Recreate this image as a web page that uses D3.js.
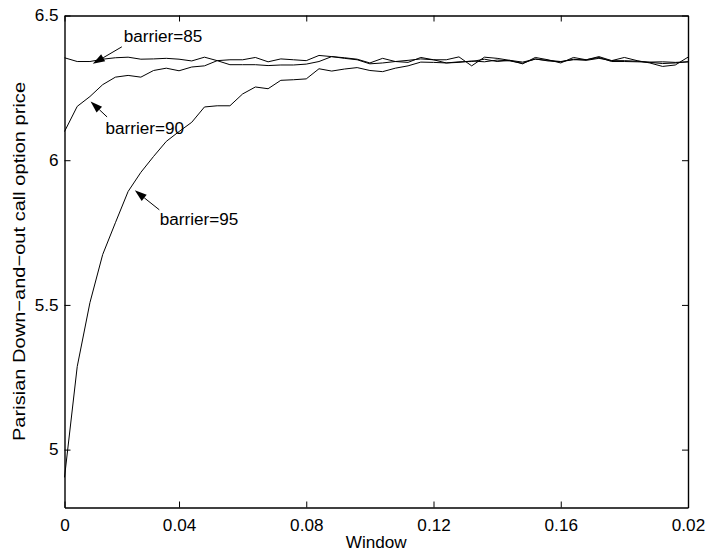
<!DOCTYPE html>
<html>
<head>
<meta charset="utf-8">
<script src="https://cdn.jsdelivr.net/npm/d3@7"></script>
<style>
  html, body { margin: 0; padding: 0; background: #fff; }
  svg { display: block; }
  text { font-family: "Liberation Sans", Arial, Helvetica, sans-serif; fill: #000; }
</style>
</head>
<body>
<svg id="chart" width="708" height="554"></svg>
<script>
// ---------------- data ----------------
const windowValues = [0.004,0.008,0.012,0.016,0.020,0.024,0.028,0.032,0.036,0.040,
  0.044,0.048,0.052,0.056,0.060,0.064,0.068,0.072,0.076,0.080,
  0.084,0.088,0.092,0.096,0.100,0.104,0.108,0.112,0.116,0.120,
  0.124,0.128,0.132,0.136,0.140,0.144,0.148,0.152,0.156,0.160,
  0.164,0.168,0.172,0.176,0.180,0.184,0.188,0.192,0.196,0.200];

const barrier85 = [6.354,6.341,6.341,6.349,6.354,6.356,6.349,6.350,6.352,6.349,
  6.343,6.356,6.344,6.330,6.330,6.330,6.327,6.329,6.329,6.332,
  6.341,6.358,6.352,6.347,6.333,6.336,6.341,6.345,6.350,6.347,
  6.336,6.340,6.341,6.349,6.341,6.345,6.339,6.349,6.345,6.341,
  6.347,6.347,6.355,6.341,6.341,6.340,6.339,6.340,6.338,6.340];

const barrier90 = [6.099,6.186,6.220,6.261,6.287,6.293,6.287,6.310,6.318,6.309,
  6.322,6.326,6.344,6.347,6.347,6.355,6.340,6.350,6.347,6.344,
  6.362,6.358,6.354,6.349,6.336,6.352,6.341,6.338,6.355,6.347,
  6.347,6.357,6.326,6.356,6.352,6.345,6.333,6.355,6.347,6.336,
  6.355,6.347,6.358,6.344,6.355,6.344,6.336,6.324,6.329,6.356];

const barrier95 = [4.904,5.287,5.508,5.674,5.784,5.892,5.958,6.013,6.065,6.099,
  6.131,6.184,6.188,6.188,6.229,6.253,6.247,6.276,6.278,6.281,
  6.316,6.308,6.315,6.320,6.310,6.306,6.318,6.326,6.339,6.338,
  6.336,6.338,6.343,6.340,6.346,6.343,6.335,6.350,6.343,6.340,
  6.349,6.345,6.352,6.344,6.344,6.342,6.338,6.334,6.336,6.340];

const seriesNames = ["barrier=85", "barrier=90", "barrier=95"];
const seriesValues = [barrier85, barrier90, barrier95];

// annotation arrow tips, in data units
const annotationX = [0.0129, 0.0122, 0.0261];
const annotationY = [6.333, 6.203, 5.896];

const xTickValues = [0.004, 0.04, 0.08, 0.12, 0.16, 0.2];
const xTickLabels = ["0", "0.04", "0.08", "0.12", "0.16", "0.02"];
const yTickValues = [5, 5.5, 6, 6.5];
const yTickLabels = ["5", "5.5", "6", "6.5"];

const xLabel = "Window";
const yLabel = "Parisian Down\u2212and\u2212out call option price";

// ---------------- layout ----------------
const plotL = 64.5, plotR = 688, plotT = 15.5, plotB = 507.5;
const svg = d3.select("#chart");
const FS = 16;
const STRETCH = 1.07;

function stretch(sel, factor) {
  sel.each(function () {
    const len = this.getComputedTextLength();
    d3.select(this).attr("textLength", len * factor).attr("lengthAdjust", "spacingAndGlyphs");
  });
}

const x = d3.scaleLinear().domain([0.004, 0.2]).range([plotL, plotR]);
const y = d3.scaleLinear().domain([4.8, 6.5]).range([plotB, plotT]);

// axes
const xAxisB = d3.axisBottom(x).tickValues(xTickValues)
  .tickFormat((d, i) => xTickLabels[i]).tickSizeInner(-6).tickSizeOuter(0).tickPadding(12);
const xAxisT = d3.axisTop(x).tickValues(xTickValues)
  .tickFormat("").tickSizeInner(-6).tickSizeOuter(0);
const yAxisL = d3.axisLeft(y).tickValues(yTickValues)
  .tickFormat((d, i) => yTickLabels[i]).tickSizeInner(-6).tickSizeOuter(0).tickPadding(6);
const yAxisR = d3.axisRight(y).tickValues(yTickValues)
  .tickFormat("").tickSizeInner(-6).tickSizeOuter(0);

function styleAxis(g) {
  g.selectAll("path.domain").attr("stroke", "#000").attr("stroke-width", 1.4);
  g.selectAll(".tick line").attr("stroke", "#000").attr("stroke-width", 1);
  g.selectAll(".tick text").attr("font-size", FS).attr("font-family", "Liberation Sans, Arial, sans-serif").attr("fill", "#000");
}

svg.append("g").attr("transform", `translate(0,${plotB})`).call(xAxisB).call(styleAxis);
svg.append("g").attr("transform", `translate(0,${plotT})`).call(xAxisT).call(styleAxis);
svg.append("g").attr("transform", `translate(${plotL},0)`).call(yAxisL).call(styleAxis);
svg.append("g").attr("transform", `translate(${plotR},0)`).call(yAxisR).call(styleAxis);
svg.selectAll(".tick text").call(stretch, STRETCH);

// lines
const line = d3.line().x((d, i) => x(windowValues[i])).y(d => y(d));
svg.append("g").selectAll("path.series")
  .data(seriesValues).join("path")
  .attr("class", "series")
  .attr("d", line)
  .attr("fill", "none")
  .attr("stroke", "#000")
  .attr("stroke-width", 1);

// annotations
const tailOffset = [[29, -17], [16.5, 15.5], [24.5, 19.5]];
const textOffset = [[31, -22], [15, 33], [25, 35]];
const ann = svg.append("g");
seriesNames.forEach((name, i) => {
  const tx = x(annotationX[i]), ty = y(annotationY[i]);
  const sx = tx + tailOffset[i][0], sy = ty + tailOffset[i][1];
  const ang = Math.atan2(ty - sy, tx - sx);
  const L = 12, W = 4;
  const bx = tx - L * Math.cos(ang), by = ty - L * Math.sin(ang);
  ann.append("line").attr("x1", sx).attr("y1", sy).attr("x2", bx).attr("y2", by)
    .attr("stroke", "#000").attr("stroke-width", 1);
  const px = -Math.sin(ang), py = Math.cos(ang);
  ann.append("path")
    .attr("d", `M${tx},${ty}L${bx + W * px},${by + W * py}L${bx - W * px},${by - W * py}Z`)
    .attr("fill", "#000");
  ann.append("text").attr("x", tx + textOffset[i][0]).attr("y", ty + textOffset[i][1])
    .attr("font-size", FS).text(name).call(stretch, STRETCH);
});

// axis labels
svg.append("text").attr("x", (plotL + plotR) / 2).attr("y", 548)
  .attr("text-anchor", "middle").attr("font-size", FS).text(xLabel).call(stretch, STRETCH);
svg.append("text").attr("transform", `translate(25,${(plotT + plotB) / 2}) rotate(-90)`)
  .attr("text-anchor", "middle").attr("font-size", 17).text(yLabel).call(stretch, 1.18);
</script>
</body>
</html>
